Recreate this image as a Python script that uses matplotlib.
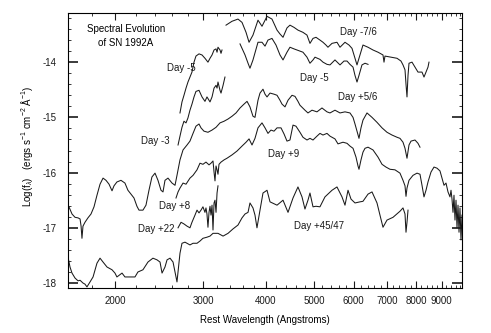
# Spectral evolution of SN 1992A
import numpy as np
from matplotlib import pyplot as plt
from matplotlib.ticker import FixedLocator, NullFormatter

plt.rcParams['font.family'] = ['Liberation Sans', 'DejaVu Sans']
plt.rcParams['mathtext.fontset'] = 'custom'
plt.rcParams['mathtext.rm'] = 'Liberation Sans'
plt.rcParams['mathtext.it'] = 'Liberation Sans:italic'
plt.rcParams['axes.unicode_minus'] = False

# Day -7/6 optical
wl_a = [3335, 3428, 3524, 3590, 3657, 3708, 3776, 3864, 3936, 4028, 4121, 4218, 4276, 4336,
        4416, 4477, 4561, 4645, 4753, 4842, 4909, 4978, 5047, 5140, 5212, 5284, 5333, 5433,
        5559, 5637, 5768, 5875, 5957, 6040, 6096, 6152, 6266, 6413, 6562, 6715, 6871, 6903,
        6934, 7129, 7329, 7464, 7534, 7604, 7639, 7674, 7710, 7745, 7853, 7962, 8073, 8223,
        8299, 8376, 8453, 8492]
f_a = [-13.33, -13.26, -13.22, -13.28, -13.46, -13.64, -13.51, -13.24, -13.35, -13.17, -13.22,
       -13.42, -13.49, -13.55, -13.38, -13.33, -13.37, -13.42, -13.46, -13.51, -13.66, -13.57,
       -13.55, -13.60, -13.64, -13.69, -13.73, -13.66, -13.64, -13.73, -13.64, -13.69, -13.75,
       -13.93, -14.05, -13.93, -13.69, -13.73, -13.78, -13.82, -13.87, -14.00, -13.89, -13.91,
       -13.93, -13.98, -14.05, -14.14, -14.40, -14.63, -14.24, -14.02, -14.00, -14.09, -14.18,
       -14.18, -14.27, -14.18, -14.09, -14.00]

# Day -5 optical
wl_b = [3557, 3640, 3691, 3724, 3776, 3864, 3936, 3991, 4046, 4121, 4198, 4276, 4336, 4416,
        4477, 4561, 4624, 4753, 4842, 4909, 4978, 5024, 5140, 5212, 5309, 5383, 5508, 5637,
        5742, 5822, 5902, 5985, 6040, 6096, 6152, 6237, 6325, 6413]
f_b = [-13.67, -13.87, -14.02, -14.11, -13.96, -13.64, -13.64, -13.71, -13.60, -13.57, -13.69,
       -13.87, -13.96, -13.82, -13.73, -13.76, -13.78, -13.82, -13.91, -14.02, -13.96, -13.91,
       -13.95, -14.00, -14.04, -14.05, -13.96, -14.05, -13.98, -13.98, -14.04, -14.09, -14.24,
       -14.36, -14.24, -14.05, -14.02, -14.04]

# Day -5 UV
wl_uv5 = [2698, 2723, 2748, 2774, 2799, 2825, 2851, 2878, 2904, 2945, 2986, 3027, 3069, 3098,
          3127, 3156, 3185, 3200, 3214, 3244, 3259, 3274]
f_uv5 = [-14.92, -14.72, -14.60, -14.47, -14.36, -14.27, -14.18, -14.00, -13.89, -13.85, -13.87,
         -13.93, -14.00, -13.93, -13.87, -13.78, -13.76, -13.82, -13.73, -13.78, -13.84, -13.78]

# Day -3 UV
wl_uv3 = [2674, 2698, 2723, 2748, 2774, 2799, 2825, 2851, 2878, 2904, 2945, 2986, 3027, 3055,
          3098, 3127, 3156, 3185, 3200, 3214, 3244, 3259, 3290, 3319]
f_uv3 = [-15.50, -15.34, -15.18, -15.07, -15.10, -15.01, -14.87, -14.76, -14.63, -14.53, -14.51,
         -14.63, -14.71, -14.63, -14.72, -14.63, -14.47, -14.42, -14.47, -14.36, -14.51, -14.56,
         -14.42, -14.27]

# UV + Day +5/6 optical
wl_d = [1603, 1618, 1641, 1664, 1687, 1703, 1711, 1718, 1726, 1742, 1766, 1791, 1816, 1841,
        1867, 1893, 1919, 1946, 1973, 1991, 2018, 2056, 2094, 2123, 2153, 2183, 2213, 2234,
        2275, 2307, 2339, 2371, 2405, 2438, 2472, 2495, 2518, 2553, 2601, 2637, 2661, 2698,
        2736, 2787, 2825, 2865, 2904, 2945, 2972, 3013, 3069, 3127, 3185, 3244, 3305, 3366,
        3428, 3492, 3557, 3623, 3674, 3724, 3776, 3811, 3864, 3900, 3954, 3991, 4028, 4084,
        4160, 4218, 4276, 4316, 4376, 4437, 4519, 4582, 4645, 4688, 4797, 4864, 4955, 5070,
        5188, 5309, 5383, 5508, 5637, 5768, 5902, 5985, 6040, 6096, 6152, 6209, 6266, 6383,
        6532, 6684, 6840, 6999, 7162, 7329, 7430, 7534, 7604, 7674, 7745, 7817, 7962, 8073,
        8147]
f_d = [-16.55, -16.62, -16.75, -16.81, -16.82, -16.84, -16.97, -17.19, -16.97, -16.90, -16.82,
       -16.75, -16.62, -16.41, -16.21, -16.10, -16.14, -16.21, -16.33, -16.24, -16.17, -16.14,
       -16.19, -16.32, -16.39, -16.46, -16.61, -16.68, -16.68, -16.59, -16.32, -16.08, -16.01,
       -16.14, -16.32, -16.35, -16.14, -16.10, -16.19, -16.23, -16.05, -15.77, -15.59, -15.50,
       -15.43, -15.29, -15.16, -15.12, -15.19, -15.25, -15.27, -15.23, -15.18, -15.10, -15.07,
       -15.03, -14.98, -14.92, -14.83, -14.76, -14.71, -14.81, -14.98, -15.00, -14.69, -14.56,
       -14.49, -14.58, -14.63, -14.56, -14.58, -14.60, -14.69, -14.76, -14.81, -14.69, -14.60,
       -14.62, -14.71, -14.78, -14.87, -14.92, -14.87, -14.90, -14.83, -14.90, -14.92, -14.87,
       -14.92, -14.90, -14.92, -15.00, -15.12, -15.25, -15.38, -15.19, -15.05, -14.92, -15.00,
       -15.09, -15.19, -15.27, -15.32, -15.36, -15.38, -15.45, -15.56, -15.74, -15.50, -15.43,
       -15.41, -15.47, -15.54]

# Day +8 UV + Day +9 optical
wl_f = [2649, 2674, 2698, 2736, 2774, 2825, 2865, 2918, 2958, 2999, 3041, 3084, 3112, 3141,
        3156, 3170, 3185, 3200, 3214, 3229, 3259, 3305, 3350, 3428, 3508, 3590, 3657, 3708,
        3759, 3811, 3864, 3936, 3991, 4046, 4102, 4160, 4218, 4296, 4356, 4416, 4477, 4540,
        4603, 4688, 4753, 4842, 4909, 4978, 5070, 5140, 5212, 5309, 5383, 5508, 5585, 5715,
        5822, 5902, 5985, 6068, 6124, 6152, 6209, 6266, 6325, 6413, 6562, 6715, 6840, 6966,
        7096, 7261, 7430, 7534, 7604, 7639, 7674, 7745, 7889, 8036, 8147, 8223, 8299, 8376,
        8453, 8571, 8690, 8811, 8933, 9016, 9100, 9184, 9269, 9354, 9398, 9441, 9485, 9528,
        9572, 9617, 9661, 9706, 9751, 9795, 9840, 9886]
f_f = [-16.46, -16.35, -16.28, -16.19, -16.21, -16.10, -16.05, -15.95, -15.83, -15.85, -15.81,
       -15.86, -15.83, -15.79, -15.99, -16.15, -15.88, -15.95, -16.03, -15.85, -15.81, -15.77,
       -15.74, -15.68, -15.61, -15.52, -15.45, -15.39, -15.50, -15.38, -15.19, -15.10, -15.19,
       -15.29, -15.23, -15.25, -15.19, -15.19, -15.30, -15.43, -15.41, -15.14, -15.16, -15.27,
       -15.36, -15.41, -15.38, -15.41, -15.34, -15.29, -15.32, -15.29, -15.34, -15.39, -15.48,
       -15.45, -15.47, -15.52, -15.56, -15.72, -15.88, -15.94, -15.77, -15.63, -15.56, -15.54,
       -15.59, -15.72, -15.85, -15.90, -15.94, -15.95, -16.01, -16.14, -16.24, -16.43, -16.28,
       -16.14, -16.05, -16.01, -16.03, -16.23, -16.44, -16.32, -16.17, -15.99, -15.90, -15.92,
       -15.97, -16.10, -16.23, -16.19, -16.35, -16.44, -16.32, -16.48, -16.72, -16.41, -16.86,
       -16.50, -17.00, -16.59, -17.08, -16.64, -17.22, -16.77]

# Day +22 UV (noisy)
wl_g = [2674, 2711, 2748, 2787, 2825, 2851, 2891, 2918, 2945, 2972, 2999, 3027, 3041, 3055,
        3069, 3084, 3098, 3112, 3127, 3141, 3156, 3170, 3185, 3200, 3214]
f_g = [-17.00, -16.90, -16.93, -16.97, -17.00, -16.90, -16.77, -16.68, -16.73, -16.68, -16.62,
       -16.72, -16.64, -16.75, -16.99, -16.72, -16.61, -16.77, -16.59, -17.04, -16.55, -16.50,
       -16.72, -16.37, -16.24]

# Day +45/47 UV + optical
wl_h = [1603, 1611, 1626, 1641, 1664, 1687, 1703, 1726, 1742, 1758, 1783, 1808, 1841, 1867,
        1893, 1928, 1973, 2000, 2018, 2066, 2094, 2143, 2193, 2223, 2275, 2328, 2382, 2427,
        2461, 2484, 2518, 2542, 2577, 2613, 2649, 2661, 2698, 2723, 2761, 2825, 2865, 2918,
        2958, 2999, 3055, 3098, 3141, 3214, 3290, 3366, 3444, 3524, 3590, 3640, 3691, 3724,
        3776, 3811, 3846, 3900, 3954, 4028, 4084, 4218, 4336, 4437, 4540, 4645, 4732, 4797,
        4864, 4909, 4978, 5047, 5140, 5260, 5433, 5559, 5689, 5768, 5849, 5930, 6040, 6180,
        6266, 6413, 6532, 6684, 6776, 6871, 6999, 7195, 7430, 7534, 7604, 7639, 7674, 7710]
f_h = [-17.35, -17.53, -17.71, -17.82, -17.91, -17.96, -17.95, -18.00, -18.02, -18.07, -17.98,
       -17.89, -17.64, -17.55, -17.62, -17.71, -17.76, -17.82, -17.89, -17.82, -17.89, -17.89,
       -17.89, -17.80, -17.76, -17.62, -17.55, -17.58, -17.62, -17.82, -17.71, -17.58, -17.55,
       -17.62, -17.89, -17.98, -17.46, -17.28, -17.26, -17.31, -17.28, -17.28, -17.24, -17.19,
       -17.17, -17.15, -17.10, -17.10, -17.15, -17.10, -17.02, -16.95, -16.82, -16.75, -16.72,
       -16.55, -16.64, -16.77, -17.00, -16.68, -16.37, -16.32, -16.53, -16.59, -16.50, -16.72,
       -16.46, -16.26, -16.44, -16.66, -16.50, -16.37, -16.62, -16.61, -16.62, -16.44, -16.32,
       -16.26, -16.44, -16.59, -16.32, -16.48, -16.55, -16.53, -16.52, -16.39, -16.35, -16.55,
       -16.77, -16.99, -16.86, -16.81, -16.70, -16.64, -16.75, -17.08, -16.90, -16.68]

spectra = [(wl_a, f_a), (wl_b, f_b), (wl_uv5, f_uv5), (wl_uv3, f_uv3),
           (wl_d, f_d), (wl_f, f_f), (wl_g, f_g), (wl_h, f_h)]

# label text, wavelength, log flux
labels = [("Day -5", 2711, -14.11), ("Day -3", 2405, -15.43), ("Day -7/6", 6124, -13.46),
          ("Day -5", 5001, -14.29), ("Day +5/6", 6124, -14.63), ("Day +9", 4356, -15.67),
          ("Day +8", 2637, -16.61), ("Day +22", 2416, -17.02), ("Day +45/47", 5117, -16.97)]

x_major = [2000, 3000, 4000, 5000, 6000, 7000, 8000, 9000]
x_minor = list(range(1800, 9801, 200))
y_major = [-14, -15, -16, -17, -18]
y_minor = list(np.arange(-18.0, -13.1, 0.2))

fig = plt.figure(figsize=(4.91, 3.33), dpi=100)
ax = fig.add_axes([68 / 491, 1 - 288 / 333, 394 / 491, 275 / 333])

for wl, flux in spectra:
    ax.plot(wl, flux, color='#1a1a1a', linewidth=0.75)

for text, wl, flux in labels:
    ax.text(wl, flux, text, fontsize=7, ha='center', va='center', color='#1a1a1a')

ax.text(2104, -13.40, "Spectral Evolution", fontsize=7, ha='center', va='center')
ax.text(2104, -13.66, "of SN 1992A", fontsize=7, ha='center', va='center')

ax.set_xscale('log')
ax.set_xlim(1611, 9886)
ax.set_ylim(-18.09, -13.11)

ax.xaxis.set_major_locator(FixedLocator(x_major))
ax.xaxis.set_minor_locator(FixedLocator([v for v in x_minor if v not in x_major]))
ax.xaxis.set_major_formatter(plt.FixedFormatter([str(v) for v in x_major]))
ax.xaxis.set_minor_formatter(NullFormatter())
ax.yaxis.set_major_locator(FixedLocator(y_major))
ax.yaxis.set_minor_locator(FixedLocator(y_minor))

ax.tick_params(which='both', direction='in', top=True, right=True, labelsize=7, colors='#1a1a1a')
ax.tick_params(which='major', length=5, width=0.8)
ax.tick_params(which='minor', length=2.5, width=0.6)
ax.tick_params(axis='y', which='major', length=7, width=1.2, pad=8)
ax.tick_params(axis='x', which='major', pad=6)

for spine in ax.spines.values():
    spine.set_linewidth(0.8)

ax.set_xlabel("Rest Wavelength (Angstroms)", fontsize=7)
ax.set_ylabel(r"Log(f$_\lambda$)   (ergs s$^{-1}$ cm$^{-2}$ Å$^{-1}$)", fontsize=7)
ax.xaxis.set_label_coords(0.5, -0.098)
ax.yaxis.set_label_coords(-0.084, 0.516)

fig.savefig("out.png", dpi=100)
